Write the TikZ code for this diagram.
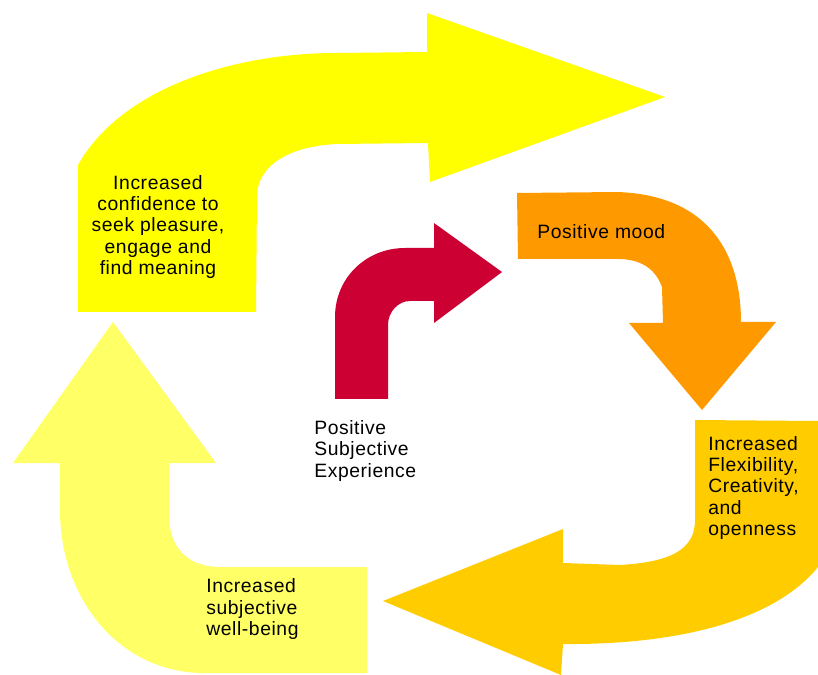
\documentclass[tikz,border=0pt]{standalone}
\usepackage{fontspec}
\setmainfont[LetterSpace=3]{Liberation Sans}
\usepackage{xcolor}
\definecolor{brightyellow}{HTML}{FFFF00}
\definecolor{paleyellow}{HTML}{FFFF66}
\definecolor{crimson}{HTML}{CC0033}
\definecolor{moodorange}{HTML}{FF9900}
\definecolor{goldyellow}{HTML}{FFCC00}
\tikzset{
  captxt/.style={inner sep=0pt, font=\fontsize{11}{12}\selectfont, text=black},
  bigarrow/.style={draw=none}
}

\begin{document}
\begin{tikzpicture}[x=0.02cm, y=-0.02cm]
\useasboundingbox (0,0) rectangle (818,675);
% top arrow
\fill [brightyellow, bigarrow] (78,312)--(78,165) .. controls (120,90) and (230,53) .. (337,53)
  --(427,52)--(427,13)--(665,97)--(430,182)--(428,143)--(337,144)
  .. controls (290,146) and (258,165) .. (257,195)--(256,312)--cycle;
% centre arrow
\fill [crimson, bigarrow] (335,399)--(335,317) .. controls (335,278) and (366,248) .. (405,248)
  --(434,248)--(434,223)--(502,272)--(434,323)--(434,301)--(410,301)
  .. controls (398,301) and (388,312) .. (388,325)--(388,399)--cycle;
% right arrow
\fill [moodorange, bigarrow] (517,193)--(617,192) .. controls (710,195) and (741,255) .. (741,322)
  --(776,322)--(702,410)--(629,323)--(663,323)--(662,287)
  .. controls (655,268) and (640,259) .. (618,259)--(518,259)--cycle;
% bottom arrow
\fill [goldyellow, bigarrow] (695,420)--(818,421)--(818,567) .. controls (775,620) and (680,645) .. (563,644)
  --(561,675)--(383,601)--(563,529)--(563,563)--(620,565)
  .. controls (670,562) and (695,550) .. (695,520)--cycle;
% left arrow
\fill [paleyellow, bigarrow] (113,322)--(216,463)--(169,463)--(169,515)
  .. controls (169,550) and (190,567) .. (220,567)--(367,567)--(367,673)--(200,673)
  .. controls (115,670) and (60,595) .. (60,510)--(60,463)--(13,463)--cycle;
\node [captxt, align=center] (confidence) at (158,227) {Increased\\confidence to\\seek pleasure,\\engage and\\find meaning};
\node [captxt, anchor=west] (mood) at (537,232) {Positive mood};
\node [captxt, align=left, anchor=west] (flexibility) at (708,488) {Increased\\Flexibility,\\Creativity,\\and\\openness};
\node [captxt, align=left, anchor=west] (wellbeing) at (206,609) {Increased\\subjective\\well-being};
\node [captxt, align=left, anchor=west] (experience) at (314,451) {Positive\\Subjective\\Experience};
\end{tikzpicture}
\end{document}
